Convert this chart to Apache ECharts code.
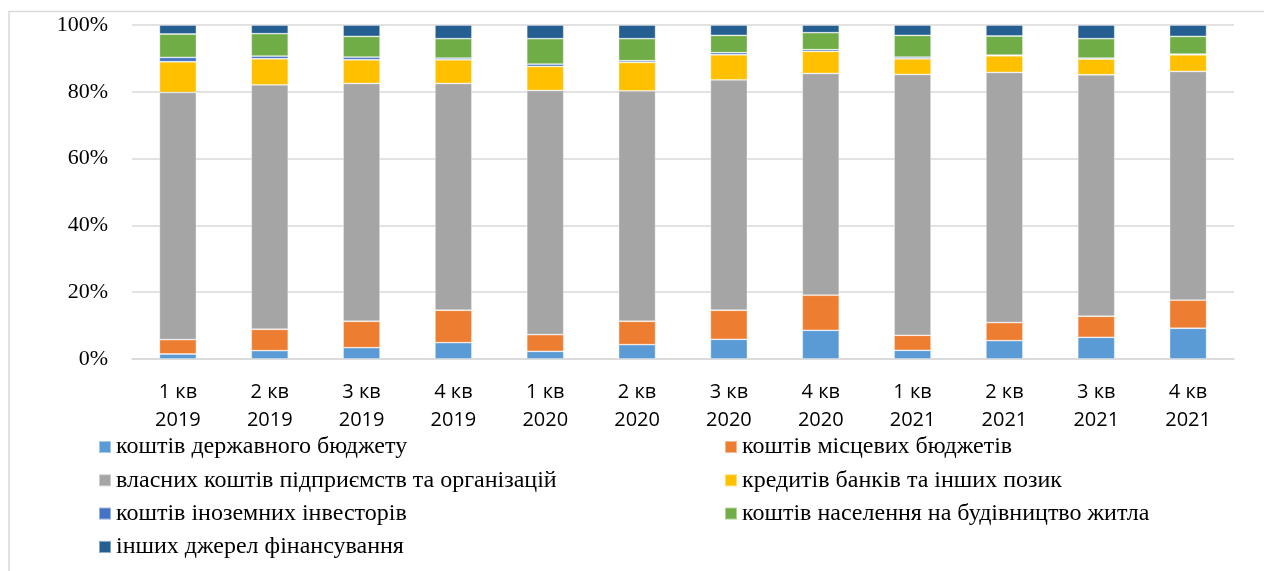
<!DOCTYPE html>
<html>
<head>
<meta charset="utf-8">
<script src="https://cdn.jsdelivr.net/npm/echarts@6/dist/echarts.min.js"></script>
<style>
  html, body { margin: 0; padding: 0; background: #fff; }
  #chart { width: 1264px; height: 571px; }
</style>
</head>
<body>
<div id="chart"></div>
<script>
// Quarters on the category axis
const quarters = ['1 кв\n2019', '2 кв\n2019', '3 кв\n2019', '4 кв\n2019',
                  '1 кв\n2020', '2 кв\n2020', '3 кв\n2020', '4 кв\n2020',
                  '1 кв\n2021', '2 кв\n2021', '3 кв\n2021', '4 кв\n2021'];

// Share of each financing source, % of total
const stateBudget   = [1.5, 2.5, 3.4, 4.9, 2.3, 4.3, 5.9, 8.6, 2.6, 5.5, 6.5, 9.2];
const localBudgets  = [4.3, 6.4, 7.9, 9.7, 5.0, 7.0, 8.7, 10.5, 4.5, 5.4, 6.3, 8.4];
const ownFunds      = [74.0, 73.2, 71.2, 67.9, 73.1, 69.0, 69.0, 66.4, 78.1, 74.9, 72.3, 68.5];
const bankCredits   = [9.2, 7.8, 7.1, 7.1, 7.2, 8.5, 7.5, 6.6, 4.7, 5.0, 4.7, 5.0];
const foreignInv    = [1.3, 0.8, 0.8, 0.5, 0.7, 0.5, 0.6, 0.5, 0.5, 0.2, 0.3, 0.2];
const households    = [7.0, 6.7, 6.2, 5.8, 7.6, 6.6, 5.2, 5.1, 6.5, 5.7, 5.8, 5.3];
const otherSources  = [2.7, 2.6, 3.4, 4.1, 4.1, 4.1, 3.1, 2.3, 3.1, 3.3, 4.1, 3.4];

const seriesDefs = [
  { name: 'коштів державного бюджету', data: stateBudget, color: '#5B9BD5' },
  { name: 'коштів місцевих бюджетів', data: localBudgets, color: '#ED7D31' },
  { name: 'власних коштів підприємств та організацій', data: ownFunds, color: '#A5A5A5' },
  { name: 'кредитів банків та інших позик', data: bankCredits, color: '#FFC000' },
  { name: 'коштів іноземних інвесторів', data: foreignInv, color: '#4472C4' },
  { name: 'коштів населення на будівництво житла', data: households, color: '#70AD47' },
  { name: 'інших джерел фінансування', data: otherSources, color: '#255E91' }
];

const serif = 'Liberation Serif';
const legendText = { fontFamily: serif, fontSize: 24, color: '#000', lineHeight: 24 };

const chart = echarts.init(document.getElementById('chart'), null, { renderer: 'canvas' });

chart.setOption({
  animation: false,
  backgroundColor: '#fff',
  color: seriesDefs.map(s => s.color),
  graphic: [{
    type: 'rect',
    shape: { x: 9, y: 11.5, width: 1300, height: 620 },
    style: { fill: 'none', stroke: '#d9d9d9', lineWidth: 1.5 },
    silent: true
  }],
  grid: { left: 132, right: 30, top: 25, bottom: 212, containLabel: false },
  legend: [
    {
      orient: 'vertical', left: 98, top: 435, padding: 0,
      itemWidth: 12, itemHeight: 12, itemGap: 9.3,
      icon: 'rect', textStyle: legendText,
      data: [seriesDefs[0].name, seriesDefs[2].name, seriesDefs[4].name, seriesDefs[6].name]
    },
    {
      orient: 'vertical', left: 724, top: 435, padding: 0,
      itemWidth: 12, itemHeight: 12, itemGap: 9.3,
      icon: 'rect', textStyle: legendText,
      data: [seriesDefs[1].name, seriesDefs[3].name, seriesDefs[5].name]
    }
  ],
  xAxis: {
    type: 'category',
    data: quarters,
    axisLine: { show: true, lineStyle: { color: '#d9d9d9', width: 1.5 } },
    axisTick: { show: false },
    axisLabel: {
      fontFamily: 'Open Sans',
      fontSize: 20, color: '#000', lineHeight: 28, margin: 19
    }
  },
  yAxis: {
    type: 'value', min: 0, max: 100, interval: 20,
    axisLine: { show: false },
    axisTick: { show: false },
    splitLine: { lineStyle: { color: '#d9d9d9', width: 1.5 } },
    axisLabel: {
      formatter: '{value}%', fontFamily: serif, fontSize: 22, color: '#000', margin: 24
    }
  },
  series: seriesDefs.map(s => ({
    name: s.name,
    type: 'bar',
    stack: 'total',
    barWidth: 37,
    data: s.data,
    itemStyle: { color: s.color, borderColor: 'rgba(255,255,255,0.45)', borderWidth: 0.8 }
  }))
});
</script>
</body>
</html>
